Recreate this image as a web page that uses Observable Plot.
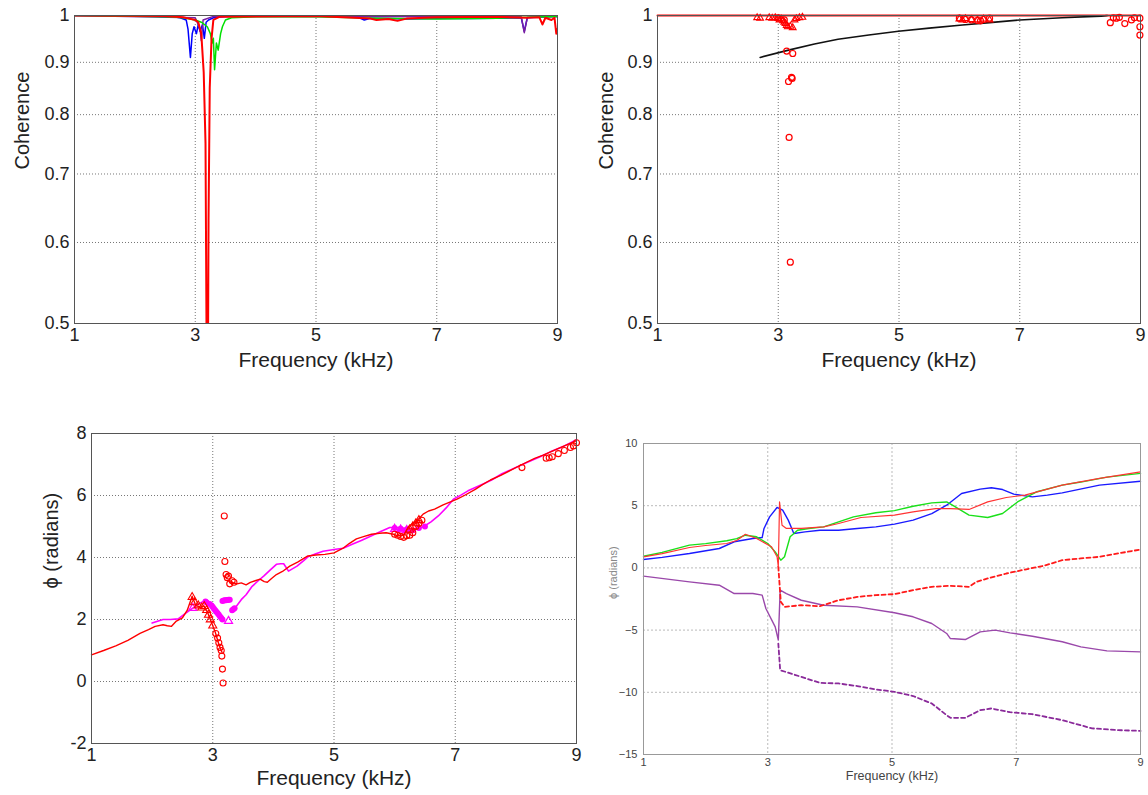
<!DOCTYPE html>
<html><head><meta charset="utf-8">
<script src="https://cdn.jsdelivr.net/npm/d3@7"></script>
<script src="https://cdn.jsdelivr.net/npm/@observablehq/plot@0.6"></script>
<style>
body{margin:0;background:#fff;}
#root{position:relative;width:1148px;height:795px;overflow:hidden;background:#fff;}
.panel{position:absolute;}
</style></head><body><div id="root"></div>
<script>
// ---------- tick labels ----------
const freqTicks = [1, 3, 5, 7, 9];
const cohTicks = [0.5, 0.6, 0.7, 0.8, 0.9, 1];
const phaseTicksA = [-2, 0, 2, 4, 6, 8];
const phaseTicksB = [-15, -10, -5, 0, 5, 10];
const gridFreq = [3, 5, 7];

// ---------- Panel 1: coherence lines [kHz, coherence] ----------
const cohBlue = [[1,1],[2.3,0.999],[2.5,0.997],[2.6,0.998],[2.75,0.995],[2.85,0.99],[2.88,0.97],[2.92,0.91],[2.95,0.96],[2.98,0.975],[3.02,0.96],[3.05,0.98],[3.08,0.965],[3.12,0.98],[3.15,0.95],[3.18,0.985],[3.22,0.99],[3.3,0.995],[3.5,0.998],[4,0.999],[5,0.999],[5.7,0.996],[5.8,0.99],[5.9,0.994],[6.2,0.993],[6.5,0.992],[7,0.993],[7.5,0.993],[8,0.994],[8.4,0.995],[8.45,0.965],[8.5,0.995],[8.8,0.997],[9,0.998]];
const cohGreen = [[1,1],[2.6,0.997],[2.8,0.995],[3.0,0.99],[3.1,0.985],[3.2,0.975],[3.25,0.96],[3.28,0.94],[3.3,0.95],[3.32,0.885],[3.35,0.94],[3.38,0.925],[3.42,0.96],[3.45,0.975],[3.5,0.99],[3.6,0.995],[4,0.997],[5,0.997],[6,0.994],[7,0.992],[8,0.994],[8.5,0.996],[9,0.998]];
const cohPurple = [[1,1],[3.0,0.995],[3.08,0.97],[3.1,0.945],[3.13,0.99],[3.3,0.998],[8.4,0.997],[8.45,0.962],[8.5,0.996],[9,0.998]];
const cohRed = [[1,1],[2.5,0.999],[2.8,0.996],[2.9,0.993],[3.0,0.99],[3.05,0.985],[3.1,0.96],[3.14,0.88],[3.17,0.75],[3.19,0.45],[3.21,0.45],[3.22,0.63],[3.24,0.85],[3.27,0.95],[3.3,0.99],[3.4,0.997],[5,0.999],[5.9,0.993],[6.0,0.99],[6.2,0.992],[6.35,0.988],[6.5,0.993],[7,0.996],[8,0.997],[8.5,0.995],[8.7,0.996],[8.75,0.98],[8.8,0.995],[8.9,0.99],[8.95,0.995],[8.98,0.96],[9,0.97]];

// ---------- Panel 2: coherence markers + fit ----------
const cohFit = [[2.7,0.91],[3.17,0.925],[3.6,0.938],[3.99,0.948],[4.5,0.957],[4.99,0.965],[5.5,0.972],[6.05,0.979],[6.5,0.984],[7.0,0.99],[7.7,0.995],[8.35,0.9985],[8.45,1]];
const cohTop = [[1,1],[9,1]];
const cohTri = [[2.65,0.995],[2.7,0.994],[2.85,0.995],[2.9,0.994],[2.95,0.995],[3.0,0.993],[3.02,0.99],[3.05,0.992],[3.08,0.988],[3.1,0.985],[3.12,0.982],[3.14,0.978],[3.16,0.975],[3.2,0.976],[3.24,0.973],[3.27,0.99],[3.3,0.993],[3.35,0.995],[3.4,0.996],[6.0,0.992],[6.05,0.99],[6.1,0.993],[6.2,0.991],[6.3,0.99],[6.4,0.992],[6.5,0.99]];
const cohCirc = [[3.0,0.995],[3.1,0.99],[3.14,0.923],[3.17,0.862],[3.18,0.76],[3.2,0.574],[3.22,0.87],[3.23,0.868],[3.24,0.918],[6.0,0.994],[6.1,0.991],[6.2,0.99],[6.3,0.989],[6.35,0.988],[6.4,0.991],[6.5,0.994],[8.5,0.984],[8.55,0.995],[8.6,0.994],[8.65,0.996],[8.74,0.982],[8.85,0.99],[8.9,0.995],[8.99,0.975],[8.99,0.957],[8.99,0.994]];

// ---------- Panel 3: phase [kHz, radians] ----------
const phRedA = [[1.0,0.86],[1.2,1.0],[1.4,1.15],[1.6,1.33],[1.8,1.55],[1.94,1.67],[2.05,1.78],[2.18,1.83],[2.25,1.8],[2.32,1.78],[2.4,1.95],[2.5,2.05],[2.58,2.3],[2.66,2.75],[2.72,2.45],[2.8,2.4],[2.86,2.43],[2.92,2.2],[2.98,1.9],[3.04,1.6],[3.1,1.2],[3.15,0.95]];
const phRedB = [[3.3,3.2],[3.4,3.15],[3.47,3.18],[3.55,3.12],[3.62,3.2],[3.7,3.25],[3.78,3.3],[3.85,3.22],[3.9,3.2],[3.97,3.32],[4.05,3.45],[4.15,3.55],[4.27,3.72],[4.4,3.85],[4.57,4.05],[4.7,4.08],[4.85,4.1],[5.0,4.15],[5.15,4.3],[5.25,4.45],[5.37,4.6],[5.5,4.68],[5.62,4.75],[5.75,4.78],[5.86,4.8],[5.98,4.75],[6.05,4.7],[6.15,4.72],[6.23,5.0],[6.3,5.1],[6.4,5.25],[6.47,5.4],[6.56,5.5],[6.66,5.56],[6.8,5.7],[7.03,5.88],[7.15,6.0],[7.33,6.2],[7.45,6.35],[7.58,6.5],[7.75,6.65],[7.95,6.85],[8.1,7.0],[8.31,7.2],[8.45,7.3],[8.62,7.45],[8.8,7.6],[9.0,7.77]];
const phRedCirc = [[3.05,1.55],[3.08,1.4],[3.1,1.25],[3.12,1.1],[3.14,1.0],[3.15,0.82],[3.16,0.4],[3.17,-0.05],[3.19,5.34],[3.2,3.87],[3.22,3.45],[3.24,3.35],[3.26,3.4],[3.28,3.15],[3.32,3.25],[3.35,3.2],[6.0,4.75],[6.05,4.72],[6.1,4.68],[6.15,4.65],[6.2,4.7],[6.25,4.72],[6.3,4.8],[6.35,5.0],[6.4,5.1],[6.45,5.2],[8.1,6.9],[8.5,7.2],[8.55,7.22],[8.6,7.25],[8.7,7.35],[8.8,7.45],[8.9,7.55],[8.95,7.6],[9.0,7.7]];
const phRedTri = [[2.66,2.72],[2.7,2.55],[2.76,2.45],[2.82,2.38],[2.86,2.43],[2.9,2.3],[2.93,2.15],[2.96,2.0],[3.0,1.8],[6.25,4.9],[6.3,5.0],[6.35,5.1],[6.4,5.2]];
const phMagA = [[2.0,1.89],[2.18,2.0],[2.3,2.0],[2.43,2.02],[2.55,2.2],[2.67,2.37],[2.78,2.52],[2.86,2.6],[2.92,2.58],[2.98,2.48]];
const phMagB = [[3.3,2.25],[3.35,2.32],[3.47,2.64],[3.55,2.8],[3.65,3.07],[3.75,3.25],[3.84,3.4],[3.95,3.6],[4.05,3.78],[4.12,3.8],[4.17,3.8],[4.25,3.56],[4.39,3.72],[4.5,3.9],[4.57,4.02],[4.7,4.12],[4.82,4.2],[5.0,4.26],[5.15,4.3],[5.3,4.43],[5.45,4.55],[5.62,4.7],[5.78,4.85],[5.92,4.97],[6.1,4.97],[6.25,4.9],[6.35,4.9],[6.48,5.0],[6.6,5.15],[6.72,5.34],[6.85,5.6],[6.97,5.88],[7.1,6.02],[7.21,6.15],[7.46,6.37],[7.6,6.5],[7.77,6.7],[8.0,6.9],[8.19,7.07],[8.4,7.25],[8.56,7.4],[8.8,7.6],[9.0,7.8]];
const phMagDots = [[2.88,2.58],[2.9,2.55],[2.95,2.5],[2.98,2.45],[3.0,2.4],[3.02,2.35],[3.04,2.3],[3.06,2.25],[3.08,2.2],[3.1,2.15],[3.12,2.1],[3.14,2.05],[3.16,2.0],[3.16,2.6],[3.18,2.61],[3.2,2.62],[3.22,2.62],[3.24,2.63],[3.26,2.64],[3.28,2.64],[3.32,2.3],[3.34,2.33],[3.36,2.36],[6.0,4.95],[6.1,4.93],[6.2,4.9],[6.3,4.88],[6.4,4.95],[6.5,5.0]];
const phMagTri = [[2.67,2.37],[3.26,1.95],[6.0,4.92],[6.1,4.9],[6.2,4.88]];

// ---------- Panel 4: phase [kHz, radians] ----------
const p4Green = [[1,0.94],[1.3,1.25],[1.74,1.83],[2.0,1.95],[2.34,2.18],[2.5,2.35],[2.64,2.63],[2.82,2.5],[3.0,1.96],[3.12,1.29],[3.21,0.62],[3.27,0.9],[3.36,2.5],[3.48,3.03],[3.66,3.17],[3.9,3.3],[4.14,3.7],[4.38,4.1],[4.74,4.43],[5.04,4.6],[5.34,4.96],[5.64,5.23],[5.88,5.3],[6.0,4.96],[6.24,4.24],[6.54,4.05],[6.78,4.37],[7.02,5.3],[7.32,6.1],[7.74,6.65],[8.04,6.9],[8.46,7.3],[9,7.6]];
const p4Red = [[1,0.89],[1.3,1.15],[1.74,1.64],[2.0,1.8],[2.34,1.96],[2.5,2.2],[2.64,2.7],[2.82,2.36],[3.06,1.7],[3.15,0.9],[3.17,0.1],[3.19,5.3],[3.23,3.43],[3.3,3.17],[3.54,3.17],[3.9,3.3],[4.14,3.57],[4.5,4.05],[5.04,4.24],[5.34,4.5],[5.7,4.77],[5.94,4.77],[6.24,4.7],[6.54,5.31],[6.84,5.66],[7.14,5.85],[7.44,6.25],[7.74,6.65],[8.34,7.19],[9,7.72]];
const p4Blue = [[1,0.68],[1.3,0.85],[1.74,1.16],[2.22,1.56],[2.46,2.1],[2.76,2.36],[2.91,2.44],[2.94,3.17],[3.03,4.1],[3.15,4.86],[3.24,4.64],[3.33,3.84],[3.42,2.77],[3.6,2.9],[3.84,3.03],[4.14,3.03],[4.44,3.17],[4.74,3.3],[5.04,3.52],[5.34,3.84],[5.64,4.37],[5.88,5.04],[6.12,5.98],[6.42,6.33],[6.6,6.44],[6.78,6.3],[6.96,5.93],[7.26,5.71],[7.5,5.85],[7.74,6.03],[8.34,6.65],[9,6.97]];
const p4RedDash = [[3.17,0.1],[3.21,-2.73],[3.27,-3.13],[3.54,-3.0],[3.84,-3.08],[4.14,-2.6],[4.44,-2.33],[4.74,-2.19],[5.04,-2.11],[5.34,-1.79],[5.64,-1.52],[5.94,-1.44],[6.24,-1.52],[6.36,-1.12],[6.54,-0.85],[6.84,-0.45],[7.14,-0.13],[7.44,0.17],[7.74,0.62],[8.04,0.76],[8.34,0.89],[8.64,1.16],[9,1.48]];
const p4Purple = [[1,-0.66],[1.74,-1.12],[2.22,-1.39],[2.46,-2.06],[2.76,-2.06],[2.91,-2.19],[2.97,-3.26],[3.12,-4.74],[3.17,-5.8],[3.2,-1.79],[3.3,-2.06],[3.54,-2.6],[3.9,-3.0],[4.44,-3.13],[5.04,-3.61],[5.34,-3.93],[5.64,-4.47],[5.88,-5.27],[5.94,-5.68],[6.18,-5.76],[6.42,-5.14],[6.66,-5.0],[6.9,-5.22],[7.26,-5.49],[7.74,-5.94],[8.04,-6.35],[8.46,-6.67],[9,-6.75]];
const p4PurpleDash = [[3.17,-6.08],[3.2,-8.22],[3.54,-8.76],[3.84,-9.24],[4.14,-9.29],[4.44,-9.5],[4.74,-9.77],[5.04,-9.96],[5.34,-10.3],[5.64,-10.9],[5.88,-11.84],[5.94,-12.05],[6.18,-12.05],[6.42,-11.44],[6.6,-11.3],[6.9,-11.6],[7.26,-11.76],[7.74,-12.24],[8.22,-12.9],[8.64,-13.04],[9,-13.1]];

// ---------- helpers ----------
const FONT = '"Liberation Sans", Arial, Helvetica, sans-serif';
const X = d => d[0], Y = d => d[1];
const root = document.getElementById("root");
function place(el, left, top) {
  const d = document.createElement("div");
  d.className = "panel"; d.style.left = left + "px"; d.style.top = top + "px";
  d.appendChild(el); root.appendChild(d);
}
function bigAxes(yTicks, yLabel, yLabelDx, fmt, tickFs, xDy) {
  return [
    Plot.gridX(gridFreq, {stroke: "#777", strokeOpacity: 1, strokeDasharray: "1,2"}),
    Plot.gridY(yTicks.slice(1, -1), {stroke: "#777", strokeOpacity: 1, strokeDasharray: "1,2"}),
    Plot.axisX({ticks: freqTicks, tickSize: 0, tickPadding: 5, fontSize: tickFs, label: null, fill: "#222"}),
    Plot.axisY({ticks: yTicks, tickSize: 0, tickPadding: 5, fontSize: tickFs, label: null, tickFormat: fmt, fill: "#222"}),
    Plot.text(["Frequency (kHz)"], {frameAnchor: "bottom", dy: xDy, fontSize: 21, fill: "#222", text: d => d}),
    Plot.text([yLabel], {frameAnchor: "left", dx: yLabelDx, rotate: -90, fontSize: 20, fill: "#222", text: d => d})
  ];
}
const fmtNum = d => String(d);

// ---------- Panel 1 ----------
place(Plot.plot({
  width: 580, height: 400, marginLeft: 74, marginRight: 23, marginTop: 15, marginBottom: 77,
  style: {fontFamily: FONT, background: "#fff"},
  x: {domain: [1, 9]},
  y: {type: "log", domain: [0.5, 1]},
  marks: [
    ...bigAxes(cohTicks, "Coherence", -52, fmtNum, 18, 43),
    Plot.line(cohBlue, {x: X, y: Y, stroke: "#0000ff", strokeWidth: 1.5, clip: true}),
    Plot.line(cohPurple, {x: X, y: Y, stroke: "#7a1fa0", strokeWidth: 1.5, clip: true}),
    Plot.line(cohGreen, {x: X, y: Y, stroke: "#00e000", strokeWidth: 1.5, clip: true}),
    Plot.line(cohRed, {x: X, y: Y, stroke: "#ff0000", strokeWidth: 2, clip: true}),
    Plot.frame({stroke: "#555"})
  ]
}), 0, 0);

// ---------- Panel 2 ----------
place(Plot.plot({
  width: 568, height: 400, marginLeft: 77, marginRight: 8, marginTop: 15, marginBottom: 77,
  style: {fontFamily: FONT, background: "#fff"},
  x: {domain: [1, 9]},
  y: {type: "log", domain: [0.5, 1]},
  marks: [
    ...bigAxes(cohTicks, "Coherence", -51, fmtNum, 18, 43),
    Plot.line(cohTop, {x: X, y: Y, stroke: "#ff0000", strokeWidth: 2}),
    Plot.line(cohFit, {x: X, y: Y, stroke: "#111", strokeWidth: 1.6}),
    Plot.dot(cohTri, {x: X, y: Y, symbol: "triangle", r: 2.5, stroke: "#ff0000", strokeWidth: 1.1}),
    Plot.dot(cohCirc, {x: X, y: Y, symbol: "circle", r: 3, stroke: "#ff0000", strokeWidth: 1.2}),
    Plot.frame({stroke: "#555"})
  ]
}), 580, 0);

// ---------- Panel 3 ----------
place(Plot.plot({
  width: 585, height: 395, marginLeft: 91, marginRight: 9, marginTop: 33, marginBottom: 52,
  style: {fontFamily: FONT, background: "#fff"},
  x: {domain: [1, 9]},
  y: {domain: [-2, 8]},
  marks: [
    ...bigAxes(phaseTicksA, "ϕ (radians)", -40, fmtNum, 18, 41),
    Plot.line(phMagA, {x: X, y: Y, stroke: "#ff00ff", strokeWidth: 1.6}),
    Plot.line(phMagB, {x: X, y: Y, stroke: "#ff00ff", strokeWidth: 1.6}),
    Plot.dot(phMagDots, {x: X, y: Y, r: 3, fill: "#ff00ff"}),
    Plot.dot(phMagTri, {x: X, y: Y, symbol: "triangle", r: 3, stroke: "#ff00ff", strokeWidth: 1.2}),
    Plot.line(phRedA, {x: X, y: Y, stroke: "#ff0000", strokeWidth: 1.4}),
    Plot.line(phRedB, {x: X, y: Y, stroke: "#ff0000", strokeWidth: 1.4}),
    Plot.dot(phRedTri, {x: X, y: Y, symbol: "triangle", r: 3, stroke: "#ff0000", strokeWidth: 1.1}),
    Plot.dot(phRedCirc, {x: X, y: Y, symbol: "circle", r: 3, stroke: "#ff0000", strokeWidth: 1.1}),
    Plot.frame({stroke: "#555"})
  ]
}), 0, 400);

// ---------- Panel 4 ----------
place(Plot.plot({
  width: 563, height: 395, marginLeft: 58, marginRight: 8, marginTop: 43, marginBottom: 41,
  style: {fontFamily: FONT, background: "#fff"},
  x: {domain: [1, 9]},
  y: {domain: [-15, 10]},
  marks: [
    Plot.gridX(gridFreq, {stroke: "#bbb", strokeOpacity: 1, strokeDasharray: "2,2"}),
    Plot.gridY([-10, -5, 0, 5], {stroke: "#bbb", strokeOpacity: 1, strokeDasharray: "2,2"}),
    Plot.axisX({ticks: freqTicks, tickSize: 0, tickPadding: 4, fontSize: 11, label: null, fill: "#444"}),
    Plot.axisY({ticks: phaseTicksB, tickSize: 0, tickPadding: 6, fontSize: 11, label: null, fill: "#444"}),
    Plot.text(["Frequency (kHz)"], {frameAnchor: "bottom", dy: 25, fontSize: 12.5, fill: "#444", text: d => d}),
    Plot.text(["ϕ (radians)"], {frameAnchor: "left", dx: -30, rotate: -90, fontSize: 11, fill: "#888", text: d => d}),
    Plot.line(p4PurpleDash, {x: X, y: Y, stroke: "#8a2a9a", strokeWidth: 1.8, strokeDasharray: "4,3"}),
    Plot.line(p4Purple, {x: X, y: Y, stroke: "#9a48aa", strokeWidth: 1.4}),
    Plot.line(p4RedDash, {x: X, y: Y, stroke: "#ff1a1a", strokeWidth: 1.8, strokeDasharray: "4,3"}),
    Plot.line(p4Blue, {x: X, y: Y, stroke: "#1a1aff", strokeWidth: 1.4}),
    Plot.line(p4Green, {x: X, y: Y, stroke: "#1ae01a", strokeWidth: 1.4}),
    Plot.line(p4Red, {x: X, y: Y, stroke: "#ff3333", strokeWidth: 1.2}),
    Plot.frame({stroke: "#999"})
  ]
}), 585, 400);
</script></body></html>
